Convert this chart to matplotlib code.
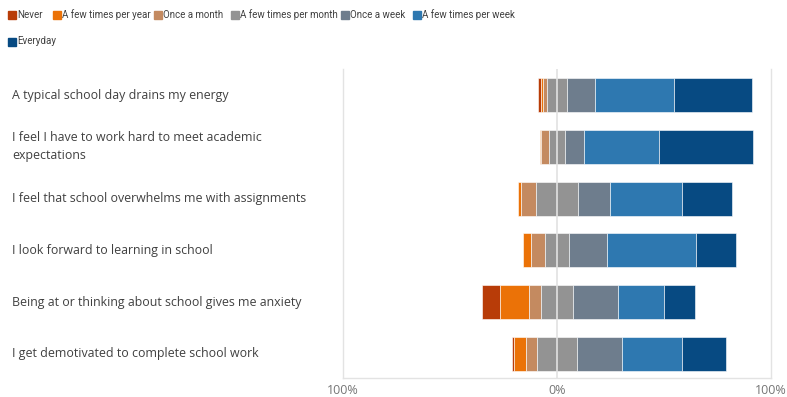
import numpy as np
import matplotlib
matplotlib.use('Agg')
import matplotlib.pyplot as plt
from matplotlib.patches import Rectangle

plt.rcParams['font.family'] = ['Open Sans', 'DejaVu Sans']

statements = [
    'A typical school day drains my energy',
    'I feel I have to work hard to meet academic\nexpectations',
    'I feel that school overwhelms me with assignments',
    'I look forward to learning in school',
    'Being at or thinking about school gives me anxiety',
    'I get demotivated to complete school work',
]
categories = ['Never', 'A few times per year', 'Once a month', 'A few times per month',
              'Once a week', 'A few times per week', 'Everyday']
colors = ['#B83C08', '#EB7207', '#C48A60', '#939393', '#6E7D8D', '#2E78B0', '#074A82']

# percent of answers per statement, one list per category
never = [1.1, 0.0, 0.0, 0.0, 8.7, 1.1]
few_year = [1.2, 0.5, 1.4, 3.7, 13.2, 5.5]
once_month = [2.0, 3.9, 6.7, 6.9, 5.9, 5.3]
few_month = [8.9, 7.3, 19.9, 10.9, 14.8, 18.4]
once_week = [13.2, 8.9, 14.6, 17.9, 21.2, 21.3]
few_week = [36.9, 35.2, 33.8, 41.4, 21.3, 27.9]
everyday = [36.4, 43.9, 23.2, 18.8, 14.6, 20.4]

series = [never, few_year, once_month, few_month, once_week, few_week, everyday]
data = np.array(series)

fig = plt.figure(figsize=(7.87, 3.97), dpi=100)
W, H = 787, 397
ax = fig.add_axes([343 / W, 1 - 377.5 / H, 428 / W, 308.5 / H])

y = np.arange(len(statements))
# neutral category straddles zero: start each bar at minus the "negative" share
start = -(data[0] + data[1] + data[2] + data[3] / 2)
left = start.copy()
for vals, c in zip(data, colors):
    ax.barh(y, vals, left=left, height=0.656, color=c, edgecolor='white',
            linewidth=0.4, zorder=2)
    left = left + vals

ax.axvline(0, color='#e2e2e2', linewidth=1.2, zorder=3)
ax.set_xlim(-100, 100)
ax.set_ylim(5.454, -0.502)
ax.set_xticks([-100, 0, 100])
ax.set_xticklabels(['100%', '0%', '100%'], color='#767676', fontsize=9)
ax.tick_params(axis='x', length=0, pad=5)
ax.set_yticks([])
for s in ['left', 'right', 'bottom']:
    ax.spines[s].set_color('#e3e3e3')
    ax.spines[s].set_linewidth(1.0)
ax.spines['top'].set_visible(False)

# statement labels on the left
for yi, text in zip(y, statements):
    ypix = ax.transData.transform((0, yi))[1]
    fig.text(12 / W, ypix / fig.bbox.height, text, ha='left', va='center',
             fontsize=8.9, color='#404040', linespacing=1.5)

# legend laid out in a row that wraps
legend_pos = [(8, 14.7), (53, 14.7), (154, 14.7), (231, 14.7), (341, 14.7),
              (413, 14.7), (8, 41.5)]
for (px, py), name, c in zip(legend_pos, categories, colors):
    fig.patches.append(Rectangle((px / W, 1 - (py + 4) / H), 8 / W, 8 / H,
                                 transform=fig.transFigure, color=c))
    fig.text((px + 9) / W, 1 - py / H, name, ha='left', va='center',
             fontsize=7.0, color='#404040', family='Roboto')

fig.savefig('out.png', dpi=100)
